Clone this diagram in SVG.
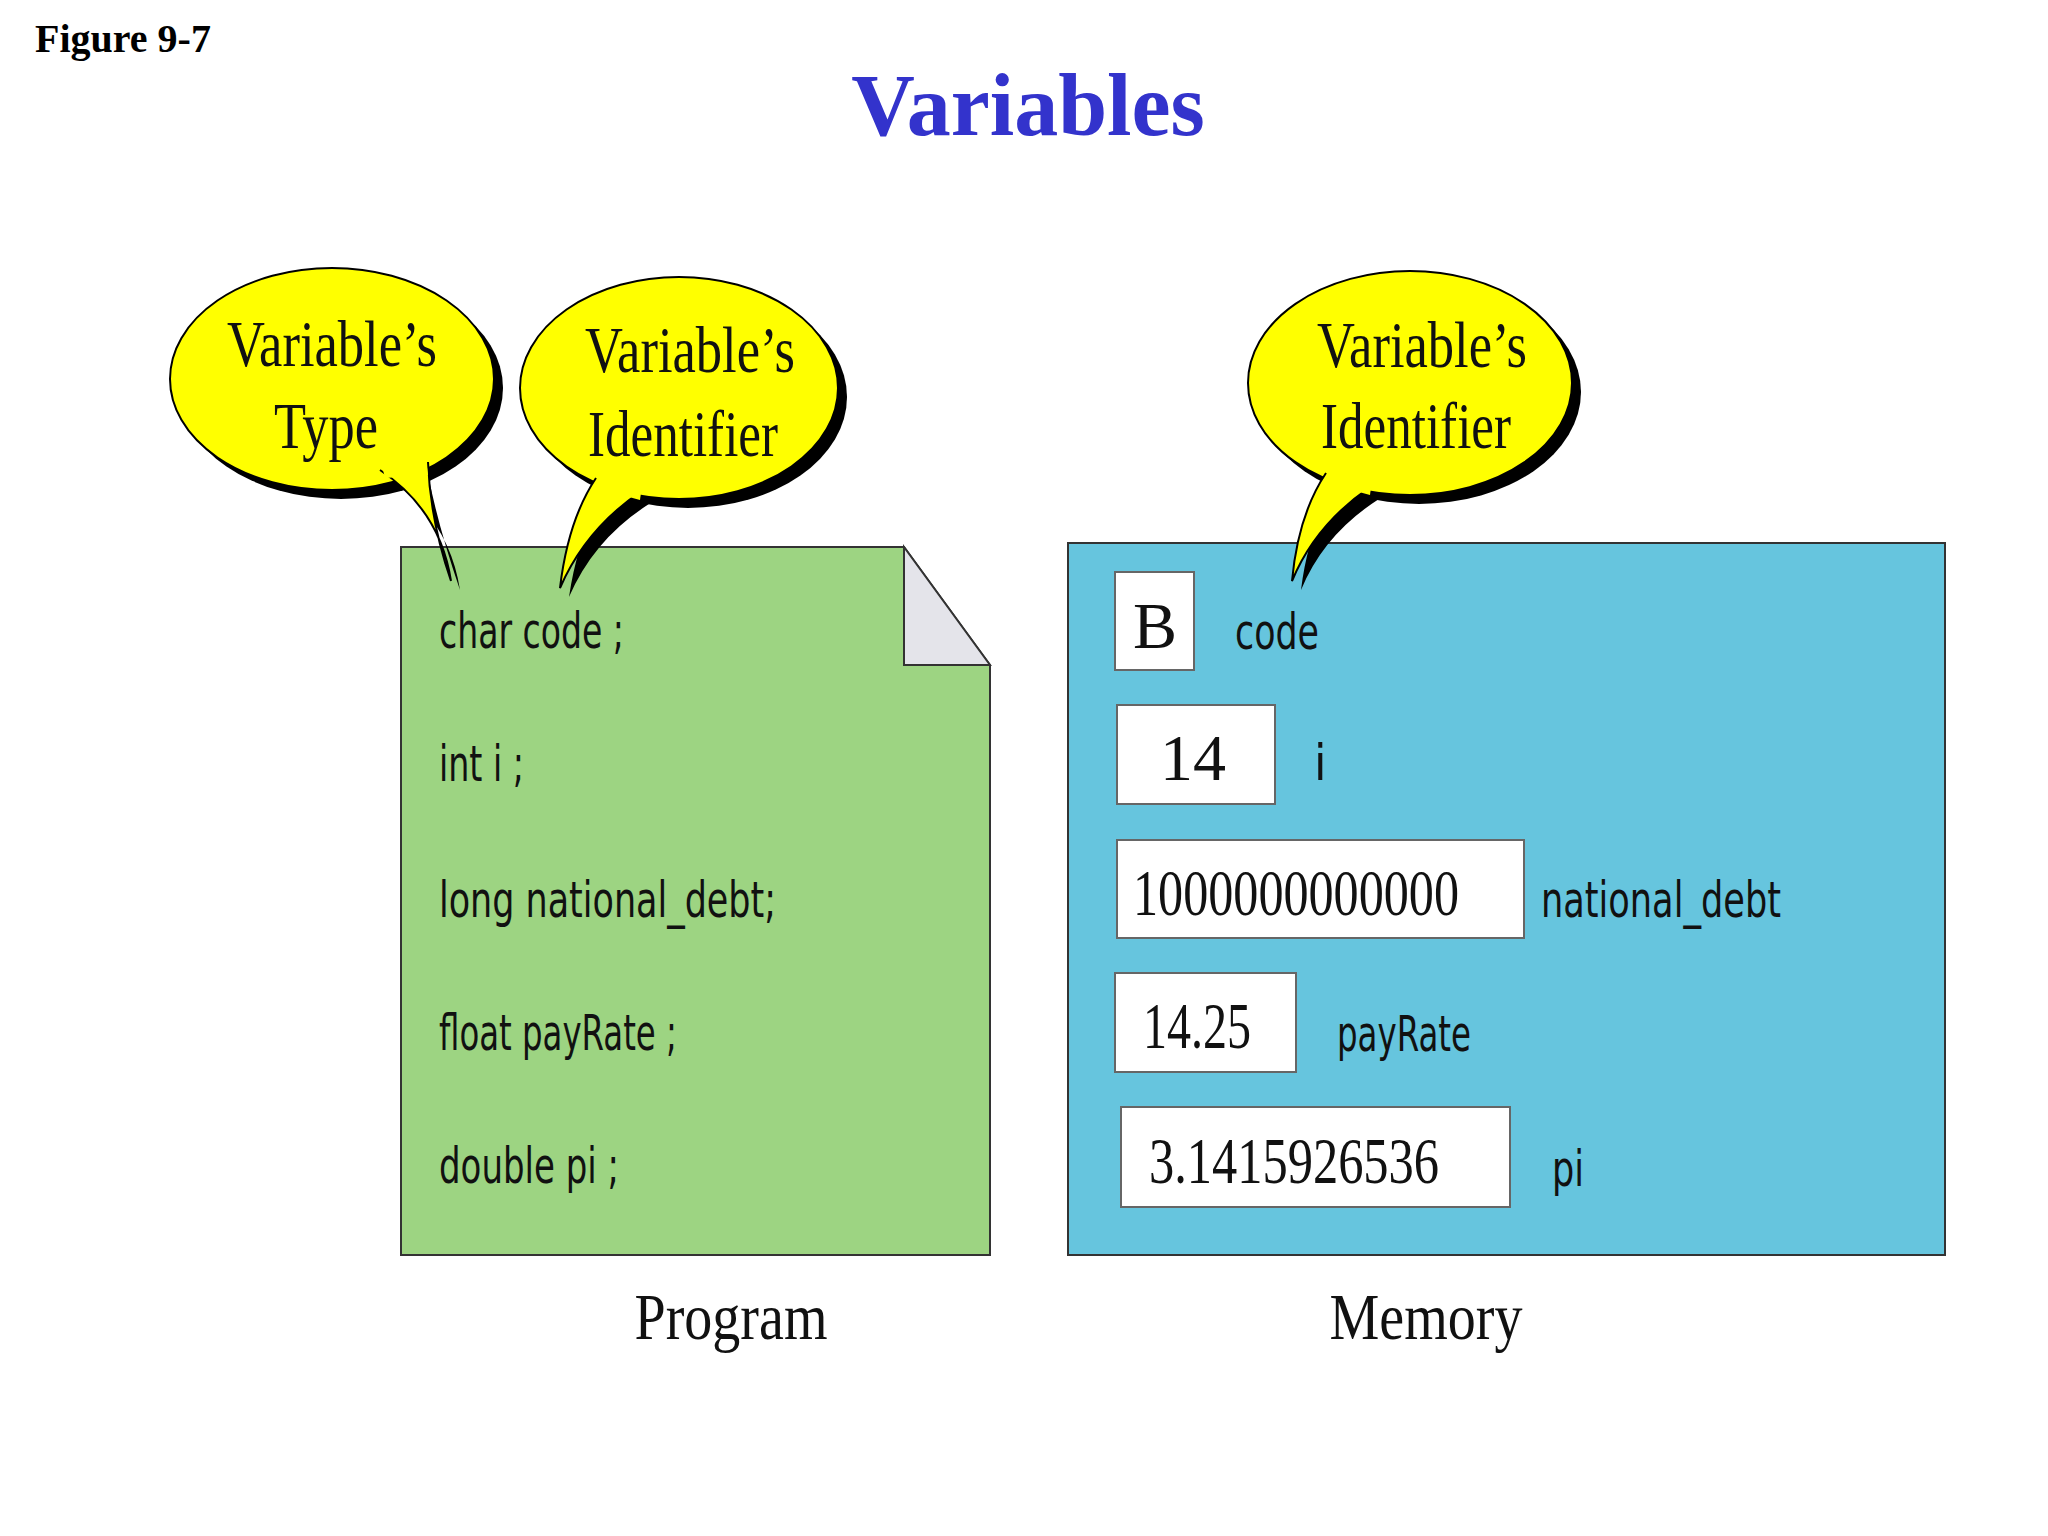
<svg xmlns="http://www.w3.org/2000/svg" width="2048" height="1536" viewBox="0 0 2048 1536">
<style>
.cd{font-family:"DejaVu Sans Condensed","Liberation Sans",sans-serif;font-size:50px;fill:#111}
.bt{font-family:"Liberation Serif",serif;font-size:66px;fill:#111}
.bx{fill:#fff;stroke:#666;stroke-width:2}
.bub{fill:#ffff00;stroke:#000;stroke-width:2}
.sh{fill:#000}
</style>
<rect width="2048" height="1536" fill="#fff"/>
<text x="35" y="52" font-family="Liberation Serif,serif" font-weight="bold" font-size="40">Figure 9-7</text>
<text x="1028" y="135" text-anchor="middle" font-family="Liberation Serif,serif" font-weight="bold" font-size="88" fill="#3333cc">Variables</text>

<g id="program">
<path d="M401,547 H904 L990,665 V1255 H401 Z" fill="#9dd482" stroke="#333" stroke-width="2"/>
<path d="M904,547 V665 H990 Z" fill="#e4e4ea" stroke="#333" stroke-width="2"/>
<text class="cd" x="439" y="648" textLength="185" lengthAdjust="spacingAndGlyphs">char code ;</text>
<text class="cd" x="439" y="781" textLength="85" lengthAdjust="spacingAndGlyphs">int i ;</text>
<text class="cd" x="439" y="917" textLength="337" lengthAdjust="spacingAndGlyphs">long national_debt;</text>
<text class="cd" x="439" y="1050" textLength="238" lengthAdjust="spacingAndGlyphs">float payRate ;</text>
<text class="cd" x="439" y="1183" textLength="180" lengthAdjust="spacingAndGlyphs">double pi ;</text>
<text class="bt" x="731" y="1339" text-anchor="middle" textLength="193" lengthAdjust="spacingAndGlyphs">Program</text>
</g>

<g id="memory">
<rect x="1068" y="543" width="877" height="712" fill="#66c5de" stroke="#333" stroke-width="2"/>
<rect class="bx" x="1115" y="572" width="79" height="98"/>
<text class="bt" x="1155" y="648" text-anchor="middle">B</text>
<rect class="bx" x="1117" y="705" width="158" height="99"/>
<text class="bt" x="1193" y="780" text-anchor="middle">14</text>
<rect class="bx" x="1117" y="840" width="407" height="98"/>
<text class="bt" x="1133" y="915" textLength="326" lengthAdjust="spacingAndGlyphs">1000000000000</text>
<rect class="bx" x="1115" y="973" width="181" height="99"/>
<text class="bt" x="1143" y="1048" textLength="108" lengthAdjust="spacingAndGlyphs">14.25</text>
<rect class="bx" x="1121" y="1107" width="389" height="100"/>
<text class="bt" x="1149" y="1183" textLength="290" lengthAdjust="spacingAndGlyphs">3.1415926536</text>
<text class="cd" x="1235" y="649" textLength="84" lengthAdjust="spacingAndGlyphs">code</text>
<text class="cd" x="1314" y="780">i</text>
<text class="cd" x="1541" y="917" textLength="240" lengthAdjust="spacingAndGlyphs">national_debt</text>
<text class="cd" x="1337" y="1051" textLength="134" lengthAdjust="spacingAndGlyphs">payRate</text>
<text class="cd" x="1552" y="1186" textLength="32" lengthAdjust="spacingAndGlyphs">pi</text>
<text class="bt" x="1426" y="1339" text-anchor="middle" textLength="193" lengthAdjust="spacingAndGlyphs">Memory</text>
</g>

<g id="bubble-type">
<g transform="translate(9,9)" class="sh"><ellipse cx="332" cy="379" rx="162" ry="111"/><path d="M380,470 Q440,510 451,581 Q430,520 420,470 Z"/></g>
<ellipse class="bub" cx="332" cy="379" rx="162" ry="111"/>
<path d="M380,470 Q440,510 451,581 Q430,520 428,462" fill="#ffff00" stroke="#000" stroke-width="2"/>
<path d="M382,466 L426,460 L428,475 L385,478 Z" fill="#ffff00"/>
<text class="bt" x="332" y="366" text-anchor="middle" textLength="210" lengthAdjust="spacingAndGlyphs">Variable’s</text>
<text class="bt" x="326" y="448" text-anchor="middle" textLength="104" lengthAdjust="spacingAndGlyphs">Type</text>
</g>

<g id="bubble-identifier-program">
<g transform="translate(9,9)" class="sh"><ellipse cx="679" cy="388" rx="159" ry="111"/><path d="M600,480 Q570,520 560,588 Q585,530 640,495 Z"/></g>
<ellipse class="bub" cx="679" cy="388" rx="159" ry="111"/>
<path d="M596,478 Q568,520 560,588 Q585,530 640,492" fill="#ffff00" stroke="#000" stroke-width="2"/>
<path d="M598,470 L642,485 L640,500 L596,488 Z" fill="#ffff00"/>
<text class="bt" x="690" y="372" text-anchor="middle" textLength="210" lengthAdjust="spacingAndGlyphs">Variable’s</text>
<text class="bt" x="683" y="456" text-anchor="middle" textLength="190" lengthAdjust="spacingAndGlyphs">Identifier</text>
</g>

<g id="bubble-identifier-memory">
<g transform="translate(9,9)" class="sh"><ellipse cx="1410" cy="383" rx="162" ry="112"/><path d="M1330,475 Q1300,515 1292,581 Q1315,525 1370,490 Z"/></g>
<ellipse class="bub" cx="1410" cy="383" rx="162" ry="112"/>
<path d="M1326,473 Q1298,515 1292,581 Q1315,525 1370,487" fill="#ffff00" stroke="#000" stroke-width="2"/>
<path d="M1328,465 L1372,480 L1370,495 L1326,483 Z" fill="#ffff00"/>
<text class="bt" x="1422" y="367" text-anchor="middle" textLength="210" lengthAdjust="spacingAndGlyphs">Variable’s</text>
<text class="bt" x="1416" y="448" text-anchor="middle" textLength="190" lengthAdjust="spacingAndGlyphs">Identifier</text>
</g>

<g id="connectors"/>
</svg>
